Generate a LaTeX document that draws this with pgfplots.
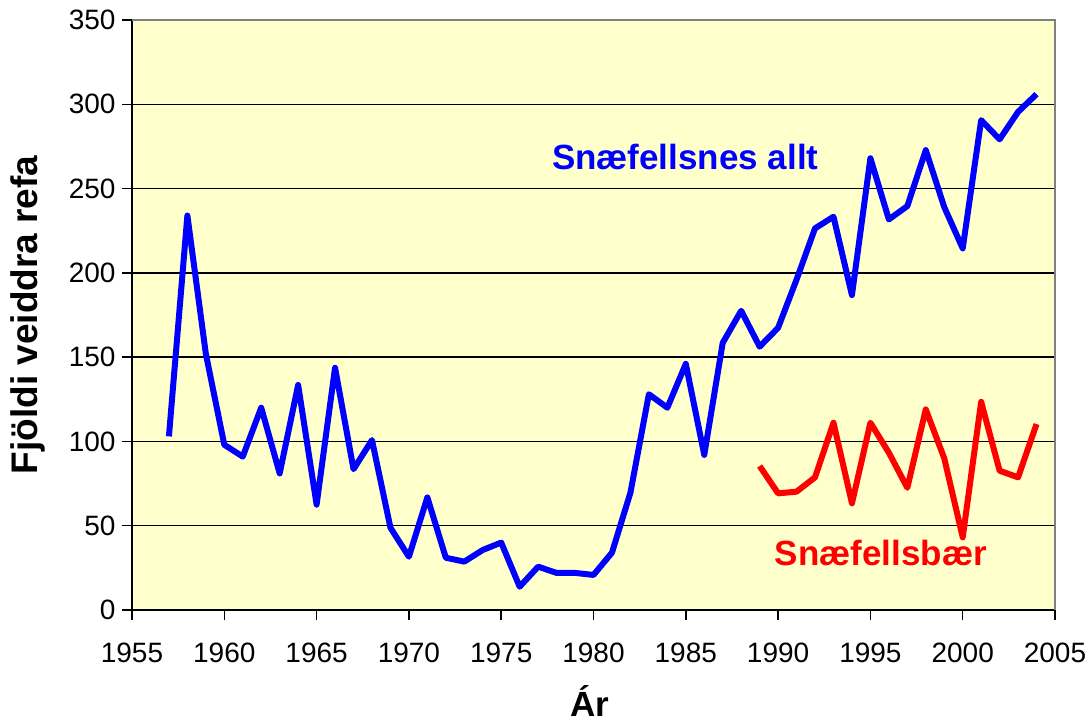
\documentclass[border=0pt]{standalone}
\usepackage{pgfplots}
\pgfplotsset{compat=1.18}
\usepackage{fontspec}
\setmainfont{Liberation Sans}
\definecolor{bgyellow}{RGB}{255,255,204}
\definecolor{topgray}{RGB}{128,128,128}
\begin{document}
\begin{tikzpicture}
\useasboundingbox (0,0) rectangle (1088pt,723pt);
\begin{axis}[
  scale only axis,
  width=923pt, height=590pt,
  at={(132pt,113pt)}, anchor=south west,
  xmin=1955, xmax=2005, ymin=0, ymax=350,
  xtick distance=5, ytick distance=50,
  axis background/.style={fill=bgyellow},
  axis lines=left,
  axis line style={black, line width=1.8pt, -},
  ymajorgrids,
  grid style={black, line width=1.5pt},
  tick style={black, line width=1.5pt},
  tick align=outside,
  major tick length=10pt,
  /pgf/number format/assume math mode=true,
  /pgf/number format/set thousands separator={},
  ticklabel style={font=\fontsize{28}{28}\selectfont},
  xticklabel style={yshift=-19pt},
  yticklabel style={xshift=-3pt},
  xlabel={Ár},
  ylabel={Fjöldi veiddra refa},
  xlabel style={font=\fontsize{35}{35}\selectfont\bfseries, inner sep=0pt, at={(axis description cs:0.496,-0.181)}, anchor=base},
  ylabel style={font=\fontsize{37}{37}\selectfont\bfseries, at={(axis description cs:-0.113,0.5)}, anchor=center},
  clip=false,
]
\draw[topgray, line width=1.8pt] (rel axis cs:0,1) -- (rel axis cs:1,1) -- (rel axis cs:1,0);
\addplot[blue, line width=6pt, line join=round] coordinates {
(1957,103) (1958,234) (1959,152) (1960,98) (1961,91) (1962,120) (1963,81)
(1964,133.5) (1965,62.5) (1966,143.7) (1967,83.5) (1968,100.8) (1969,48.8)
(1970,31.6) (1971,66.8) (1972,31) (1973,28.7) (1974,35.6) (1975,40)
(1976,13.8) (1977,25.7) (1978,22) (1979,22) (1980,20.8) (1981,34)
(1982,69.6) (1983,128) (1984,120) (1985,146) (1986,92) (1987,158.5)
(1988,177.5) (1989,156.2) (1990,167.4) (1991,196) (1992,226.4) (1993,233.3)
(1994,186.8) (1995,268) (1996,231.7) (1997,239.6) (1998,272.8) (1999,239)
(2000,214.5) (2001,290.6) (2002,279.2) (2003,295.5) (2004,306)
};
\addplot[red, line width=6pt, line join=round] coordinates {
(1989,85.4) (1990,69.2) (1991,70.2) (1992,78.7) (1993,111.1) (1994,63.3)
(1995,111.1) (1996,93.3) (1997,72.5) (1998,119) (1999,90) (2000,43.1)
(2001,123.5) (2002,82.6) (2003,78.7) (2004,110.3)
};
\node[blue, font=\fontsize{35}{35}\selectfont\bfseries] at (axis cs:1984.97,268.7) {Snæfellsnes allt};
\node[red, font=\fontsize{35}{35}\selectfont\bfseries] at (axis cs:1995.56,33.8) {Snæfellsbær};
\end{axis}
\end{tikzpicture}
\end{document}
